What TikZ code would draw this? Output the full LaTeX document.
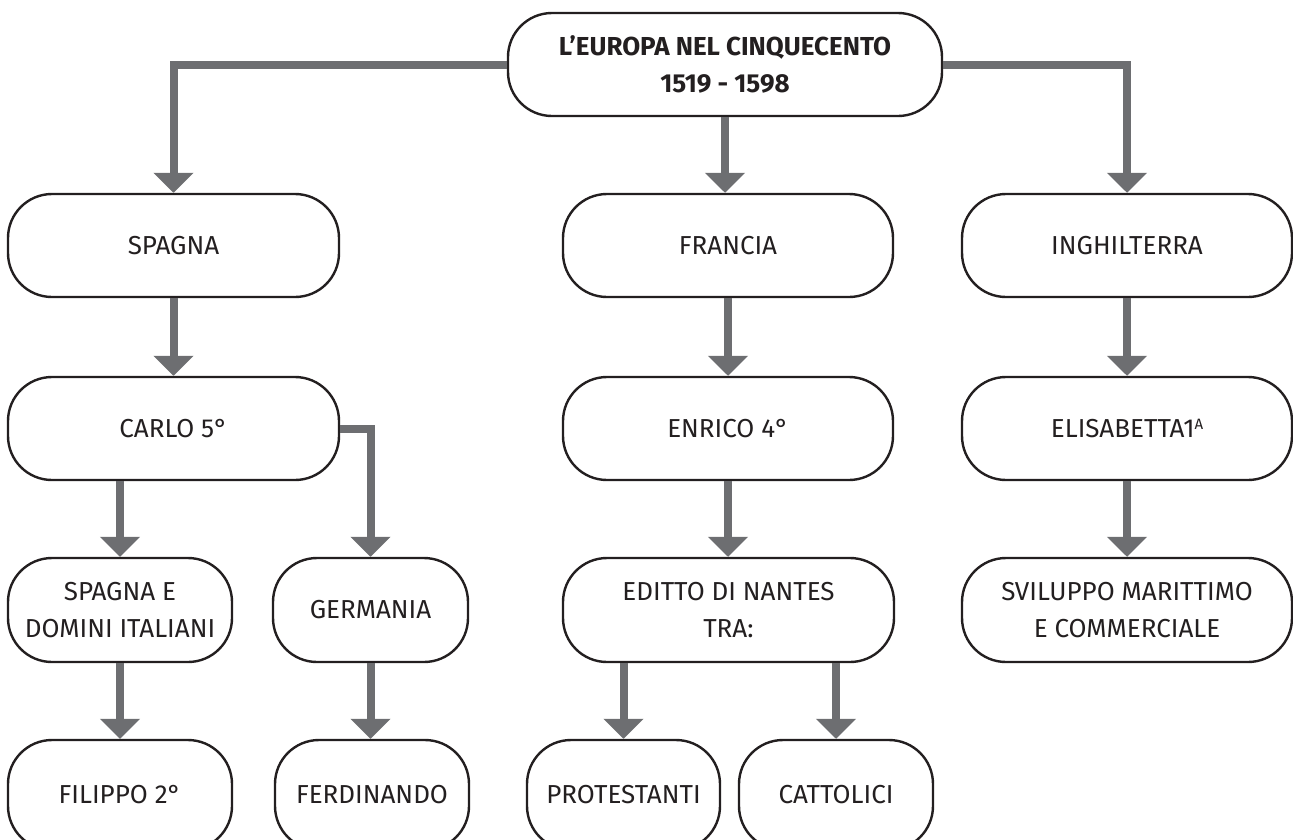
\documentclass[tikz,border=0pt]{standalone}
\usepackage{fontspec}
\setmainfont{Fira Sans}
\usetikzlibrary{arrows.meta,calc}
\definecolor{arrgray}{HTML}{6D6E71}
\definecolor{boxline}{HTML}{231F20}
\tikzset{
  box/.style={draw=boxline, line width=2.4pt, rounded corners=44pt, fill=white,
    minimum height=103pt, align=center, inner sep=0pt,
    font=\fontsize{26}{37}\selectfont, text=boxline},
  arr/.style={draw=arrgray, line width=8pt,
    -{Triangle[width=39pt,length=20pt]}}
}
\begin{document}
\begin{tikzpicture}[x=1pt,y=-1pt]
\useasboundingbox (0,0) rectangle (1293,839);
\clip (0,0) rectangle (1293,839);
% top
\node[box, minimum width=434pt, font=\fontsize{26}{37}\bfseries\selectfont] (top) at (725,64.5) {L’EUROPA NEL CINQUECENTO\\1519 - 1598};
% level 1
\node[box, minimum width=331pt] (spagna) at (173.5,245.5) {SPAGNA};
\node[box, minimum width=330pt] (francia) at (728,245.5) {FRANCIA};
\node[box, minimum width=330pt] (inghilterra) at (1127,245.5) {INGHILTERRA};
% level 2
\node[box, minimum width=331pt] (carlo) at (173.5,428.5) {CARLO 5°};
\node[box, minimum width=330pt] (enrico) at (728,428.5) {ENRICO 4°};
\node[box, minimum width=330pt] (elisabetta) at (1127,428.5) {ELISABETTA1\raisebox{0.55ex}{\fontsize{15}{15}\selectfont A}};
% level 3
\node[box, minimum width=224pt, minimum height=104pt] (sed) at (120,610) {SPAGNA E\\DOMINI ITALIANI};
\node[box, minimum width=195pt, minimum height=104pt] (germania) at (370.5,610) {GERMANIA};
\node[box, minimum width=331pt, minimum height=104pt] (editto) at (728.5,610) {EDITTO DI NANTES\\TRA:};
\node[box, minimum width=330pt, minimum height=104pt] (sviluppo) at (1127,610) {SVILUPPO MARITTIMO\\E COMMERCIALE};
% level 4 (cut off at bottom)
\node[box, minimum width=224pt, minimum height=110pt] (filippo) at (120,795) {FILIPPO 2°};
\node[box, minimum width=194pt, minimum height=110pt] (ferdinando) at (372,795) {FERDINANDO};
\node[box, minimum width=193pt, minimum height=110pt] (protestanti) at (623.5,795) {PROTESTANTI};
\node[box, minimum width=194pt, minimum height=110pt] (cattolici) at (836,795) {CATTOLICI};
% connectors
\draw[arr] (top.west) -| (spagna.north);
\draw[arr] (top.east) -| (inghilterra.north);
\draw[arr] (top.south) -- (top.south |- francia.north);
\draw[arr] (spagna.south) -- (carlo.north);
\draw[arr] (francia.south) -- (enrico.north);
\draw[arr] (inghilterra.south) -- (elisabetta.north);
\draw[arr] (sed.north |- carlo.south) -- (sed.north);
\draw[arr] (carlo.east) -| (germania.north);
\draw[arr] (enrico.south) -- (enrico.south |- editto.north);
\draw[arr] (elisabetta.south) -- (sviluppo.north);
\draw[arr] (sed.south) -- (filippo.north);
\draw[arr] (germania.south) -- (germania.south |- ferdinando.north);
\draw[arr] (protestanti.north |- editto.south) -- (protestanti.north);
\draw[arr] (cattolici.north |- editto.south) -- (cattolici.north);
\end{tikzpicture}
\end{document}
